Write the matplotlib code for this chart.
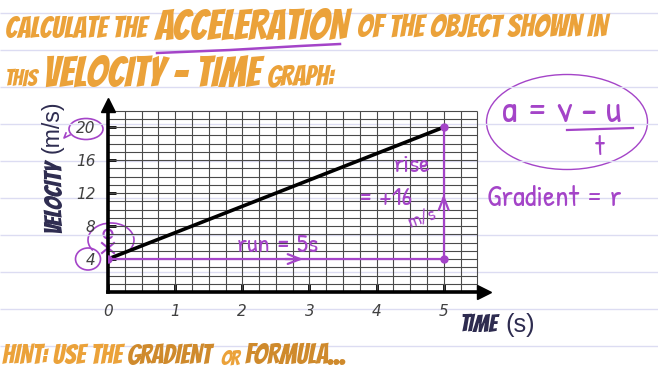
import numpy as np
import matplotlib
matplotlib.use("Agg")
import matplotlib.pyplot as plt
from matplotlib.patches import Ellipse, Arc, Circle

# chart values
time = [0, 5]
velocity = [4, 20]
x_ticks = [0, 1, 2, 3, 4, 5]
y_ticks = [4, 8, 12, 16, 20]
rise = velocity[1] - velocity[0]
run = time[1] - time[0]

orange = '#eba23a'
orange_dk = '#cf8a2c'
navy = '#2e2c50'
purple = '#a444c8'
comic = ['Bangers', 'Oswald', 'Archivo Narrow', 'DejaVu Sans']
hand = ['Patrick Hand', 'Shadows Into Light', 'Short Stack', 'DejaVu Sans']
plain = ['Liberation Sans', 'DejaVu Sans']

fig = plt.figure(figsize=(6.58, 3.66), dpi=100)
renderer = fig.canvas.get_renderer()

# overlay in pixel coordinates (paper lines, titles, notes)
ov = fig.add_axes([0, 0, 1, 1], zorder=0)
ov.set_xlim(0, 658)
ov.set_ylim(366, 0)
ov.axis('off')
ov.hlines(np.arange(13, 366, 37), 0, 658, color='#dcdcf2', lw=1)


def put(x, y, s, width=None, size=14, ha='left', va='baseline', rotation=0, **kw):
    t = ov.text(x, y, s, fontsize=size, ha=ha, va=va, rotation=rotation, **kw)
    if width:
        bb = t.get_window_extent(renderer)
        span = bb.height if rotation == 90 else bb.width
        t.set_fontsize(size * width / span)
    return t


title = dict(family=comic, style='italic')

# title
put(5, 38, 'CALCULATE THE', 142, color=orange, **title)
put(155, 40, 'ACCELERATION', 195, color=orange, **title)
put(357, 38, 'OF THE OBJECT SHOWN IN', 250, color=orange, **title)
put(5, 86, 'THIS', 33, color=orange, **title)
put(43, 87, 'VELOCITY - TIME', 217, color=orange, **title)
put(267, 86, 'GRAPH:', 68, color=orange, **title)
ov.plot([157, 230, 300, 340], [53, 50, 46, 44], color=purple, lw=1.8)

# hint
put(2, 364, 'HINT: USE THE', 120, color=orange, **title)
put(127, 364, 'GRADIENT', 86, color=orange_dk, **title)
put(220, 364, 'OR', 20, color=orange, **title)
put(245, 364, 'FORMULA...', 103, color=orange_dk, **title)

# axis labels
put(52, 233, 'VELOCITY', 73, rotation=90, ha='center', va='bottom',
    color=navy, **title)
put(52, 153, '(m/s)', 53, rotation=90, ha='center', va='bottom',
    color=navy, family=plain)
put(460, 332, 'TIME', 38, color=navy, **title)
put(505, 332, '(s)', 30, color=navy, family=plain)

# chart
ax = fig.add_axes([108 / 658, 1 - 292 / 366, 376 / 658, 187 / 366], zorder=1)
ax.patch.set_alpha(0)
ax.set_xlim(0, 5.6)
ax.set_ylim(0, 22.7)
ax.vlines(np.arange(0.25, 5.51, 0.25), 0, 22, color='#4a4a4a', lw=0.8)
ax.hlines(np.arange(1, 22.1, 1), 0, 5.5, color='#4a4a4a', lw=0.8)
for s in ['top', 'right']:
    ax.spines[s].set_visible(False)
for s in ['left', 'bottom']:
    ax.spines[s].set_linewidth(2.6)
ax.plot(1, 0, '>k', ms=10, transform=ax.get_yaxis_transform(), clip_on=False)
ax.plot(0, 1, '^k', ms=10, transform=ax.get_xaxis_transform(), clip_on=False)
ax.set_xticks(x_ticks)
ax.set_yticks(y_ticks)
ax.tick_params(direction='in', length=6, width=2, labelsize=11,
               labelcolor='#404040')
ax.tick_params(axis='x', pad=9)
ax.tick_params(axis='y', pad=9)
for lab in ax.get_xticklabels() + ax.get_yticklabels():
    lab.set_fontstyle('italic')

ax.plot(time, velocity, color='black', lw=2.6, zorder=3)

# purple working
ax.plot([time[0], time[1]], [velocity[0], velocity[0]], color=purple, lw=1.6, zorder=4)
ax.plot([time[1], time[1]], [velocity[0], velocity[1]], color=purple, lw=1.6, zorder=4)
ax.plot([time[0], time[1], time[1]], [velocity[0], velocity[0], velocity[1]], 'o',
        color=purple, ms=5, zorder=5)
ax.annotate('', xy=(2.95, velocity[0]), xytext=(2.6, velocity[0]),
            arrowprops=dict(arrowstyle='->,head_length=0.9,head_width=0.35',
                            color=purple, lw=1.6))
ax.annotate('', xy=(time[1], 12.2), xytext=(time[1], 10.5),
            arrowprops=dict(arrowstyle='->,head_length=0.9,head_width=0.35',
                            color=purple, lw=1.6))
ax.text(1.92, 4.9, f'run = {run}s', color=purple, fontsize=19, family=hand)
ax.text(4.25, 14.6, 'rise', color=purple, fontsize=19, family=hand)
ax.text(3.72, 10.6, f'= +{rise}', color=purple, fontsize=19, family=hand)
ax.text(4.42, 7.8, 'm/s', color=purple, fontsize=14, family=hand, rotation=20)

# circles round tick labels and stick figure
ov.add_patch(Ellipse((86, 129), 34, 21, fill=False, ec=purple, lw=1.2))
ov.plot([70, 64, 66], [135, 138, 133], color=purple, lw=1.2)
ov.add_patch(Ellipse((88, 259), 25, 22, fill=False, ec=purple, lw=1.2))
ov.add_patch(Arc((111, 240), 46, 34, theta1=150, theta2=400, ec=purple, lw=1.2))
ov.add_patch(Circle((108, 234), 4.5, fill=False, ec=purple, lw=1.5))
ov.plot([108, 108], [238, 258], color=purple, lw=1.5)
ov.plot([102, 114], [243, 253], color=purple, lw=1.5)
ov.plot([114, 102], [243, 253], color=purple, lw=1.5)

# formula
ov.add_patch(Ellipse((567, 122), 161, 95, fill=False, ec=purple, lw=1))
put(502, 122, 'a = v - u', 120, color=purple, family=hand)
ov.plot([567, 633], [130, 128], color=purple, lw=1.6)
put(600, 155, 't', size=20, ha='center', color=purple, family=hand)
put(487, 206, 'Gradient = r', 135, color=purple, family=hand)

fig.savefig('out.png', dpi=100)
